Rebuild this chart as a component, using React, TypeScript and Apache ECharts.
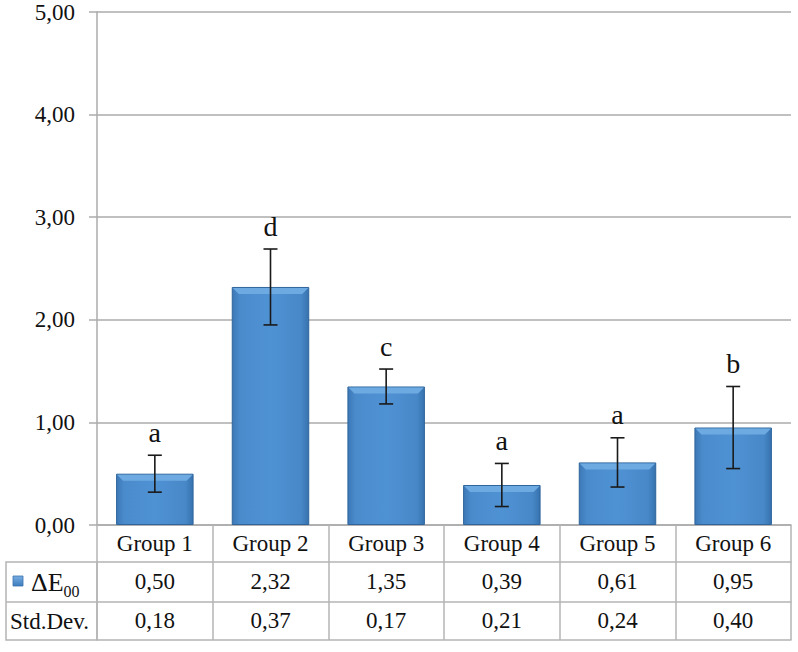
import React, { useEffect, useRef } from "react";
import * as echarts from "echarts";

const categories = ["Group 1", "Group 2", "Group 3", "Group 4", "Group 5", "Group 6"];
const deltaE = [0.5, 2.32, 1.35, 0.39, 0.61, 0.95];
const stdDev = [0.18, 0.37, 0.17, 0.21, 0.24, 0.4];
const letters = ["a", "d", "c", "a", "a", "b"];
const yTicks = { min: 0, max: 5, interval: 1 };

const fmt = (v: number) => v.toFixed(2).replace(".", ",");
const FONT = "Liberation Serif";
const GRID_LINE = "#ababab";
const TABLE_LINE = "#b4b4b4";
const FS = 23;

export default function App() {
  const ref = useRef<HTMLDivElement>(null);
  useEffect(() => {
    if (!ref.current) return;
    const chart = echarts.init(ref.current, undefined, { renderer: "svg" });
    const barGradient = new echarts.graphic.LinearGradient(0, 0, 1, 0, [
      { offset: 0, color: "#3d78b6" },
      { offset: 0.1, color: "#4a8bcc" },
      { offset: 0.5, color: "#4f92d4" },
      { offset: 0.9, color: "#4888c8" },
      { offset: 1, color: "#3672ae" },
    ]);
    const markerGradient = new echarts.graphic.LinearGradient(0, 0, 0, 1, [
      { offset: 0, color: "#79aee3" },
      { offset: 1, color: "#3d7cbd" },
    ]);
    const tableAxisBase = {
      type: "category" as const,
      data: categories,
      position: "bottom" as const,
      axisLine: { show: true, lineStyle: { color: TABLE_LINE, width: 1.5 } },
      axisTick: { show: false },
      splitLine: { show: false },
    };
    chart.setOption({
      animation: false,
      backgroundColor: "#ffffff",
      textStyle: { fontFamily: FONT },
      grid: { left: 97, right: 7, top: 12, bottom: 127, containLabel: false },
      xAxis: [
        {
          ...tableAxisBase,
          axisLine: { show: true, lineStyle: { color: GRID_LINE, width: 1.5 } },
          axisTick: {
            show: true,
            interval: 0,
            length: 115,
            lineStyle: { color: TABLE_LINE, width: 1.5 },
          },
          axisLabel: {
            interval: 0,
            margin: 7,
            fontFamily: FONT,
            fontSize: FS,
            color: "#111",
          },
        },
        {
          ...tableAxisBase,
          offset: 37,
          axisLabel: {
            interval: 0,
            margin: 8,
            fontFamily: FONT,
            fontSize: FS,
            color: "#111",
            formatter: (_v: string, i: number) => fmt(deltaE[i]),
          },
        },
        {
          ...tableAxisBase,
          offset: 77,
          axisLabel: {
            interval: 0,
            margin: 7,
            fontFamily: FONT,
            fontSize: FS,
            color: "#111",
            formatter: (_v: string, i: number) => fmt(stdDev[i]),
          },
        },
        {
          ...tableAxisBase,
          offset: 115,
          axisLabel: { show: false },
        },
      ],
      yAxis: {
        type: "value",
        min: yTicks.min,
        max: yTicks.max,
        interval: yTicks.interval,
        axisLine: { show: true, lineStyle: { color: GRID_LINE, width: 1.5 } },
        axisTick: { show: true, length: 8, lineStyle: { color: GRID_LINE, width: 1.5 } },
        splitLine: { show: true, lineStyle: { color: GRID_LINE, width: 1.5 } },
        axisLabel: {
          margin: 22,
          fontFamily: FONT,
          fontSize: FS,
          color: "#111",
          formatter: (v: number) => fmt(v),
        },
      },
      series: [
        {
          type: "bar",
          data: deltaE,
          barWidth: "67%",
          itemStyle: { color: barGradient, borderColor: "#2f659c", borderWidth: 1 },
          z: 2,
        },
        {
          type: "custom",
          data: deltaE.map((v, i) => [i, v]),
          z: 3,
          renderItem: (_params: any, api: any) => {
            const idx = api.value(0);
            const val = api.value(1);
            const topC = api.coord([idx, val]);
            const w = api.size([1, 0])[0] * 0.67;
            const x0 = topC[0] - w / 2 + 1;
            const x1 = topC[0] + w / 2 - 1;
            const y0 = topC[1] + 1;
            const b = 6;
            return {
              type: "group",
              children: [
                {
                  type: "polygon",
                  shape: { points: [[x0, y0], [x1, y0], [x1 - b, y0 + b], [x0 + b, y0 + b]] },
                  style: { fill: "#6eaae2" },
                },
              ],
            };
          },
        },
        {
          type: "custom",
          data: deltaE.map((v, i) => [i, v, stdDev[i]]),
          z: 5,
          renderItem: (params: any, api: any) => {
            const idx = api.value(0);
            const val = api.value(1);
            const sd = api.value(2);
            const top = api.coord([idx, val + sd]);
            const bot = api.coord([idx, val - sd]);
            const half = 7;
            const style = { stroke: "#1a1a1a", lineWidth: 1.6 };
            return {
              type: "group",
              children: [
                { type: "line", shape: { x1: top[0], y1: top[1], x2: bot[0], y2: bot[1] }, style },
                { type: "line", shape: { x1: top[0] - half, y1: top[1], x2: top[0] + half, y2: top[1] }, style },
                { type: "line", shape: { x1: bot[0] - half, y1: bot[1], x2: bot[0] + half, y2: bot[1] }, style },
                {
                  type: "text",
                  x: top[0],
                  y: top[1] - 9,
                  style: {
                    text: letters[params.dataIndex],
                    fontFamily: FONT,
                    fontSize: 28,
                    fill: "#111",
                    align: "center",
                    verticalAlign: "bottom",
                  },
                },
              ],
            };
          },
        },
      ],
      graphic: [
        {
          type: "rect",
          shape: { x: 6, y: 562, width: 91, height: 78 },
          style: { fill: "none", stroke: TABLE_LINE, lineWidth: 1.5 },
        },
        {
          type: "line",
          shape: { x1: 6, y1: 602, x2: 97, y2: 602 },
          style: { stroke: TABLE_LINE, lineWidth: 1.5 },
        },
        {
          type: "rect",
          shape: { x: 13, y: 576, width: 10, height: 10 },
          style: { fill: markerGradient, stroke: "#3a72ad", lineWidth: 0.8 },
        },
        {
          type: "text",
          x: 31,
          y: 582,
          style: {
            text: "{a|ΔE}{b|00}",
            verticalAlign: "middle",
            rich: {
              a: { fontFamily: FONT, fontSize: 26, fill: "#111", lineHeight: 30 },
              b: { fontFamily: FONT, fontSize: 16, fill: "#111", lineHeight: 30, padding: [18, 0, 0, 0] },
            },
          },
        },
        {
          type: "text",
          x: 10,
          y: 621,
          style: {
            text: "Std.Dev.",
            fontFamily: FONT,
            fontSize: FS,
            fill: "#111",
            verticalAlign: "middle",
          },
        },
      ],
    });
    return () => chart.dispose();
  }, []);
  return (
    <div
      ref={ref}
      style={{ position: "absolute", left: 0, top: 0, width: 798, height: 652 }}
    />
  );
}
